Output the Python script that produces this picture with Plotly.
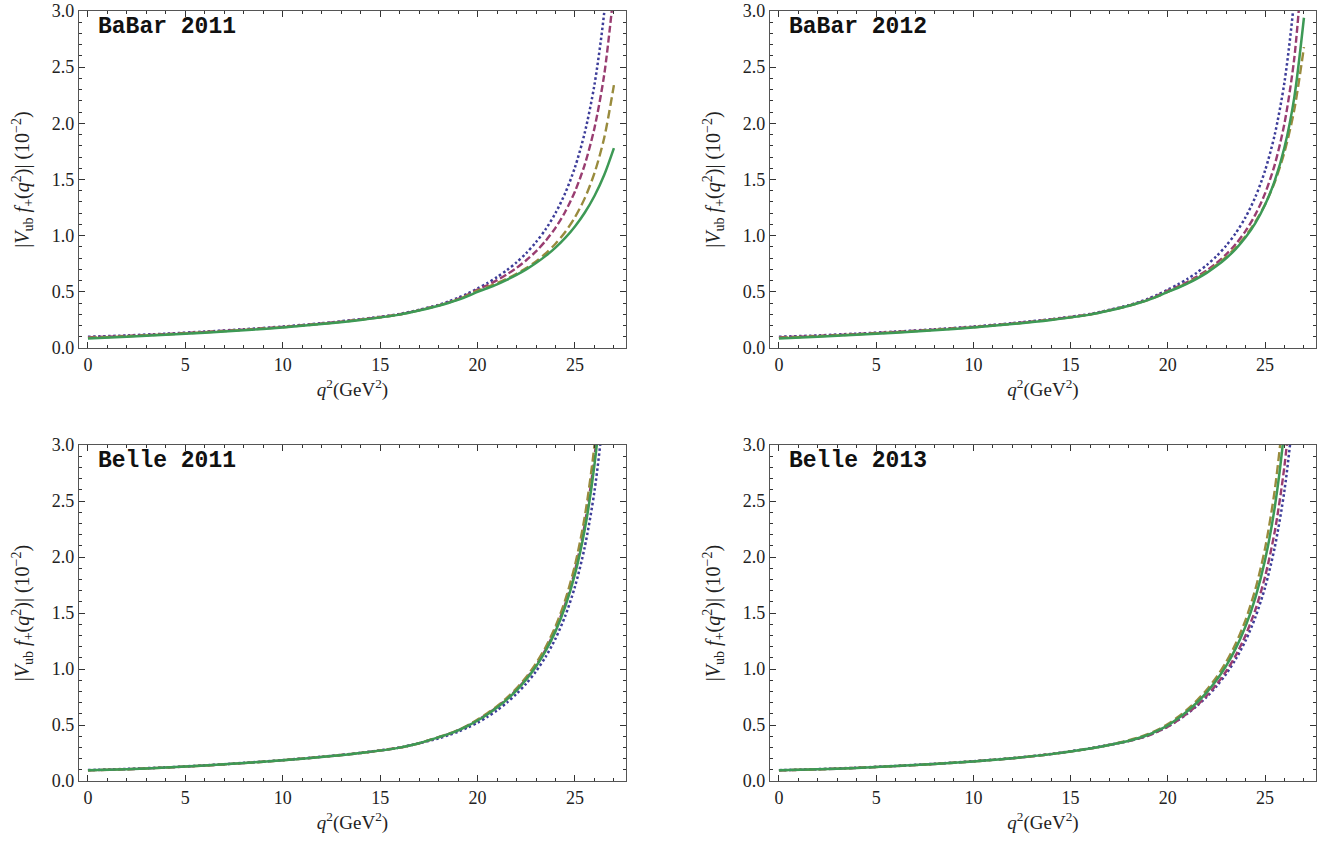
import plotly.graph_objects as go
from plotly.subplots import make_subplots

# q^2 grid (GeV^2)
q2 = [0, 2, 4, 6, 8, 10, 12, 14, 16, 17, 18, 18.5, 19, 19.5, 20, 20.5, 21, 21.5, 22, 22.5,
      23, 23.5, 24, 24.5, 25, 25.5, 26, 26.5, 27]

panel_titles = ["BaBar 2011", "BaBar 2012", "Belle 2011", "Belle 2013"]
series_names = ["fit A", "fit B", "fit C", "fit D"]

# BaBar 2011
babar11_blue   = [0.100, 0.112, 0.128, 0.146, 0.167, 0.191, 0.221, 0.257, 0.303, 0.340, 0.384, 0.413, 0.447, 0.486,
                  0.530, 0.577, 0.631, 0.692, 0.762, 0.845, 0.942, 1.058, 1.201, 1.379, 1.608, 1.914, 2.342, 2.984, 4.053]
babar11_purple = [0.095, 0.108, 0.124, 0.143, 0.164, 0.188, 0.218, 0.254, 0.300, 0.337, 0.380, 0.406, 0.437, 0.475,
                  0.520, 0.559, 0.604, 0.655, 0.713, 0.781, 0.860, 0.955, 1.070, 1.213, 1.394, 1.631, 1.957, 2.431, 3.183]
babar11_gold   = [0.090, 0.104, 0.121, 0.140, 0.161, 0.185, 0.215, 0.252, 0.298, 0.335, 0.378, 0.404, 0.433, 0.469,
                  0.510, 0.543, 0.578, 0.616, 0.660, 0.711, 0.771, 0.843, 0.928, 1.033, 1.164, 1.332, 1.556, 1.869, 2.340]
babar11_green  = [0.085, 0.100, 0.117, 0.136, 0.158, 0.183, 0.213, 0.250, 0.297, 0.333, 0.376, 0.401, 0.429, 0.462,
                  0.500, 0.532, 0.567, 0.607, 0.651, 0.700, 0.756, 0.820, 0.894, 0.980, 1.082, 1.204, 1.353, 1.540, 1.780]

# BaBar 2012
babar12_blue   = [0.100, 0.112, 0.128, 0.146, 0.167, 0.191, 0.221, 0.257, 0.303, 0.340, 0.382, 0.408, 0.440, 0.477,
                  0.520, 0.564, 0.614, 0.672, 0.738, 0.817, 0.911, 1.025, 1.165, 1.344, 1.579, 1.901, 2.368, 3.111, 4.474]
babar12_purple = [0.095, 0.108, 0.124, 0.143, 0.164, 0.188, 0.218, 0.254, 0.300, 0.337, 0.378, 0.404, 0.433, 0.469,
                  0.510, 0.546, 0.588, 0.636, 0.691, 0.756, 0.833, 0.927, 1.042, 1.187, 1.376, 1.633, 2.001, 2.575, 3.589]
babar12_gold   = [0.090, 0.104, 0.121, 0.140, 0.161, 0.185, 0.215, 0.252, 0.298, 0.335, 0.376, 0.401, 0.429, 0.462,
                  0.500, 0.537, 0.578, 0.625, 0.678, 0.740, 0.811, 0.896, 0.998, 1.123, 1.278, 1.478, 1.745, 2.118, 2.678]
babar12_green  = [0.085, 0.100, 0.117, 0.136, 0.158, 0.183, 0.213, 0.250, 0.297, 0.333, 0.376, 0.401, 0.429, 0.462,
                  0.500, 0.534, 0.573, 0.618, 0.669, 0.729, 0.799, 0.883, 0.985, 1.112, 1.275, 1.490, 1.787, 2.227, 2.940]

# Belle 2011
belle11_blue   = [0.098, 0.108, 0.122, 0.140, 0.162, 0.187, 0.217, 0.252, 0.299, 0.337, 0.380, 0.408, 0.440, 0.478,
                  0.520, 0.572, 0.631, 0.699, 0.778, 0.870, 0.979, 1.110, 1.271, 1.473, 1.735, 2.087, 2.586, 3.347, 4.652]
belle11_purple = [0.095, 0.105, 0.120, 0.138, 0.160, 0.185, 0.215, 0.250, 0.298, 0.337, 0.391, 0.419, 0.453, 0.495,
                  0.543, 0.598, 0.661, 0.733, 0.817, 0.915, 1.033, 1.176, 1.354, 1.580, 1.879, 2.289, 2.891, 3.857, 5.664]
belle11_gold   = [0.095, 0.105, 0.120, 0.138, 0.160, 0.185, 0.215, 0.250, 0.298, 0.337, 0.392, 0.421, 0.455, 0.498,
                  0.548, 0.604, 0.668, 0.742, 0.828, 0.929, 1.050, 1.197, 1.380, 1.615, 1.926, 2.357, 2.996, 4.039, 6.048]
belle11_green  = [0.095, 0.105, 0.120, 0.138, 0.160, 0.185, 0.215, 0.250, 0.298, 0.337, 0.390, 0.418, 0.452, 0.493,
                  0.540, 0.594, 0.656, 0.727, 0.810, 0.907, 1.022, 1.163, 1.336, 1.557, 1.846, 2.243, 2.820, 3.737, 5.417]

# Belle 2013
belle13_blue   = [0.097, 0.106, 0.119, 0.135, 0.154, 0.177, 0.205, 0.242, 0.292, 0.324, 0.358, 0.380, 0.407, 0.444,
                  0.487, 0.540, 0.601, 0.671, 0.751, 0.845, 0.956, 1.090, 1.254, 1.461, 1.728, 2.088, 2.597, 3.375, 4.707]
belle13_purple = [0.095, 0.104, 0.117, 0.133, 0.152, 0.175, 0.203, 0.240, 0.290, 0.322, 0.357, 0.379, 0.406, 0.443,
                  0.485, 0.540, 0.604, 0.677, 0.762, 0.862, 0.980, 1.124, 1.302, 1.528, 1.824, 2.229, 2.816, 3.744, 5.433]
belle13_gold   = [0.095, 0.104, 0.117, 0.133, 0.152, 0.175, 0.203, 0.240, 0.290, 0.322, 0.365, 0.390, 0.420, 0.460,
                  0.508, 0.569, 0.639, 0.720, 0.815, 0.927, 1.063, 1.229, 1.439, 1.711, 2.077, 2.599, 3.398, 4.782, 7.757]
belle13_green  = [0.095, 0.104, 0.117, 0.133, 0.152, 0.175, 0.203, 0.240, 0.290, 0.322, 0.360, 0.384, 0.413, 0.452,
                  0.497, 0.555, 0.623, 0.701, 0.792, 0.899, 1.028, 1.186, 1.383, 1.636, 1.973, 2.446, 3.155, 4.337, 6.700]

panels = [
    [babar11_blue, babar11_purple, babar11_gold, babar11_green],
    [babar12_blue, babar12_purple, babar12_gold, babar12_green],
    [belle11_blue, belle11_purple, belle11_gold, belle11_green],
    [belle13_blue, belle13_purple, belle13_gold, belle13_green],
]

colors = ["#3D3D99", "#993D71", "#998B3D", "#3D9955"]
dashes = ["2.5px,2.5px", "7px,3px", "9px,4px", "solid"]
widths = [2.5, 2.4, 2.4, 2.5]

W, H = 1326, 848


def fx(px):
    return px / W


def fy(py):
    return 1 - py / H


xdom = [[fx(79), fx(626)], [fx(770), fx(1316)]]
ydom = [[fy(348), fy(11)], [fy(781), fy(445)]]

fig = make_subplots(rows=2, cols=2)

for p, series in enumerate(panels):
    r, c = p // 2 + 1, p % 2 + 1
    for s, vals in enumerate(series):
        fig.add_trace(go.Scatter(
            x=q2, y=vals, mode="lines", name=series_names[s], showlegend=False,
            line=dict(color=colors[s], dash=dashes[s], width=widths[s], shape="spline", smoothing=0.8),
        ), row=r, col=c)

serif = "Liberation Serif, Times New Roman, serif"
tickfont = dict(family=serif, size=18, color="#222")
xtitle = "<i>q</i><sup>2</sup>(GeV<sup>2</sup>)"
ytitle = "|<i>V</i><sub>ub</sub> <i>f</i><sub>+</sub>(<i>q</i><sup>2</sup>)| (10<sup>\u22122</sup>)"

for p in range(4):
    r, c = p // 2, p % 2
    k = "" if p == 0 else str(p + 1)
    fig.layout["xaxis" + k].update(
        domain=xdom[c], range=[-0.46, 27.62], automargin=False,
        tickmode="array", tickvals=[0, 5, 10, 15, 20, 25], ticktext=["0", "5", "10", "15", "20", "25"],
        ticks="inside", ticklen=6, tickwidth=1, tickcolor="#333",
        minor=dict(ticks="inside", ticklen=3, tickwidth=1, tickcolor="#333", dtick=1, tick0=0, showgrid=False),
        showline=True, linecolor="#555", linewidth=1.3, mirror="allticks",
        showgrid=False, zeroline=False, tickfont=tickfont,
        title=dict(text=xtitle, font=dict(family=serif, size=19, color="#222"), standoff=8),
    )
    fig.layout["yaxis" + k].update(
        domain=ydom[r], range=[0, 3], automargin=False,
        tickmode="linear", tick0=0, dtick=0.5, tickformat=".1f",
        ticks="inside", ticklen=6, tickwidth=1, tickcolor="#333",
        minor=dict(ticks="inside", ticklen=3, tickwidth=1, tickcolor="#333", dtick=0.1, tick0=0, showgrid=False),
        showline=True, linecolor="#555", linewidth=1.3, mirror="allticks",
        showgrid=False, zeroline=False, tickfont=tickfont,
        title=dict(text=ytitle, font=dict(family=serif, size=20, color="#222"), standoff=16),
    )
    fig.add_annotation(
        text="<b>" + panel_titles[p] + "</b>",
        xref="paper", yref="paper",
        x=fx(96 if c == 0 else 787), y=fy(27 if r == 0 else 461),
        xanchor="left", yanchor="middle", showarrow=False,
        font=dict(family="Liberation Mono, Courier New, monospace", size=23, color="#111"),
    )

fig.update_layout(
    width=W, height=H, margin=dict(l=0, r=0, t=0, b=0, autoexpand=False),
    paper_bgcolor="white", plot_bgcolor="white", showlegend=False,
)

fig.write_html("out.html", config={"displayModeBar": False},
               post_script="document.body.style.margin='0';document.body.style.overflow='hidden';")
